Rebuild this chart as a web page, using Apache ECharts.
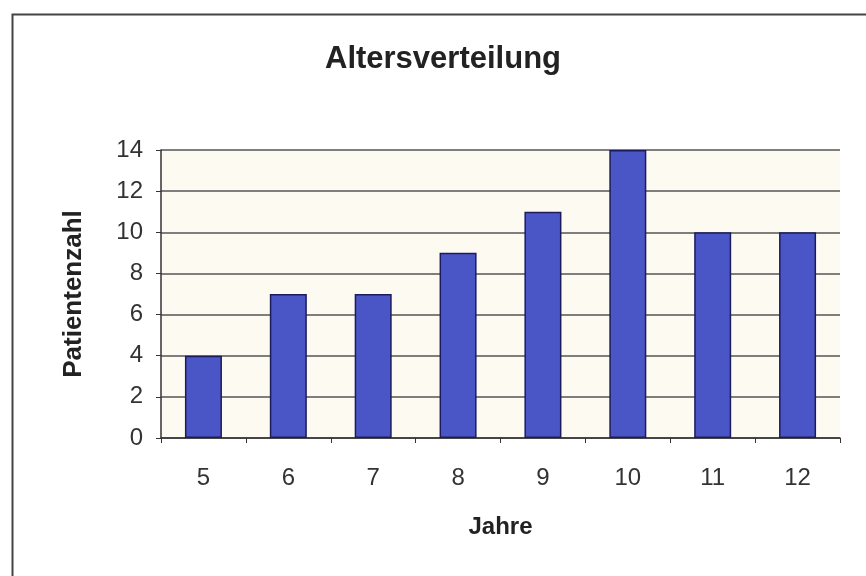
<!DOCTYPE html>
<html><head><meta charset="utf-8">
<script src="https://cdn.jsdelivr.net/npm/echarts@6/dist/echarts.min.js"></script>
<style>html,body{margin:0;padding:0;background:#fff}#c{width:866px;height:576px}</style>
</head><body><div id="c"></div>
<script>
const categories = ['5','6','7','8','9','10','11','12'];
const patients = [4, 7, 7, 9, 11, 14, 10, 10];
const chart = echarts.init(document.getElementById('c'));
const font = 'Liberation Sans, Arial, sans-serif';
chart.setOption({
  animation: false,
  backgroundColor: '#ffffff',
  graphic: [{
    type: 'rect', left: 10, top: 12, z: -1,
    shape: { width: 880, height: 600 },
    style: { fill: 'none', stroke: '#444', lineWidth: 2 }
  }, {
    type: 'text', z: 10,
    style: { text: 'Altersverteilung', x: 443, y: 44, textAlign: 'center', textVerticalAlign: 'top',
             fontFamily: font, fontSize: 31, fontWeight: 'bold', fill: '#222' }
  }],
  grid: { left: 161, right: 26, top: 150, bottom: 138, show: true, backgroundColor: '#fcfaf1', borderWidth: 0 },
  xAxis: {
    type: 'category', data: categories,
    name: 'Jahre', nameLocation: 'middle', nameGap: 77,
    nameTextStyle: { fontFamily: font, fontSize: 24, fontWeight: 'bold', color: '#222' },
    axisLine: { lineStyle: { color: '#333', width: 1.5 } },
    axisTick: { show: true, length: 5, lineStyle: { color: '#333' } },
    axisLabel: { fontFamily: font, fontSize: 24, color: '#333', margin: 28 }
  },
  yAxis: {
    type: 'value', min: 0, max: 14, interval: 2,
    name: 'Patientenzahl', nameLocation: 'middle', nameGap: 74, nameRotate: 90,
    nameTextStyle: { fontFamily: font, fontSize: 26, fontWeight: 'bold', color: '#222' },
    axisLine: { show: true, lineStyle: { color: '#333', width: 1.5 } },
    axisTick: { show: true, length: 5, lineStyle: { color: '#333' } },
    axisLabel: { fontFamily: font, fontSize: 24, color: '#333', margin: 18 },
    splitLine: { lineStyle: { color: '#555', width: 1.5 } }
  },
  series: [{
    type: 'bar', data: patients, barWidth: 37,
    itemStyle: { color: '#4a55c6', borderColor: '#1c1c5c', borderWidth: 1.5 }
  }]
});
</script></body></html>
